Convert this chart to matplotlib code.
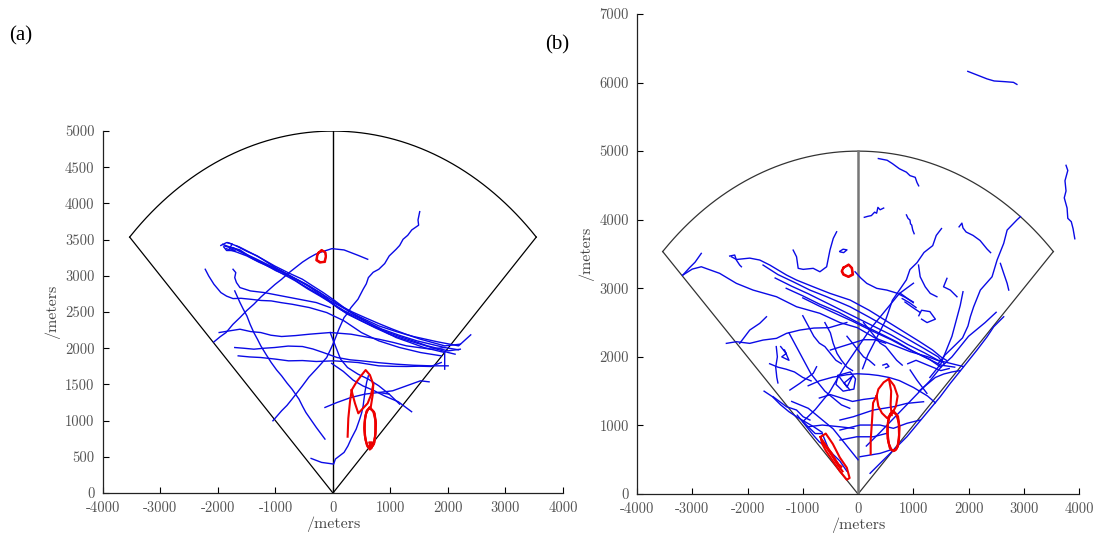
import numpy as np
import matplotlib
matplotlib.use('Agg')
import matplotlib.pyplot as plt

# radar coverage sector, same in both panels
sector_radius = 5000
sector_half_angle = 45  # degrees either side of north

x_ticks = [-4000, -3000, -2000, -1000, 0, 1000, 2000, 3000, 4000]
x_tick_labels = ['-4000', '-3000', '-2000', '-1000', '0', '1000', '2000', '3000', '4000']
y_ticks_a = [0, 500, 1000, 1500, 2000, 2500, 3000, 3500, 4000, 4500, 5000]
y_tick_labels_a = ['0', '500', '1000', '1500', '2000', '2500', '3000', '3500', '4000', '4500', '5000']
y_ticks_b = [0, 1000, 2000, 3000, 4000, 5000, 6000, 7000]
y_tick_labels_b = ['0', '1000', '2000', '3000', '4000', '5000', '6000', '7000']

# ---- panel (a): tracks in metres (x east, y north) ----
blue_tracks_a = [
    # long bundle, upper-left to lower-right
    [(-1919, 3436), (-1800, 3400), (-1617, 3358), (-1450, 3270), (-1255, 3192), (-1050, 3110), (-833, 3036),
     (-620, 2950), (-410, 2861), (-230, 2770), (-48, 2654), (130, 2580), (314, 2493), (550, 2400),
     (797, 2309), (1100, 2230), (1400, 2162), (1823, 2088), (2185, 2033), (2396, 2185)],
    [(-1889, 3413), (-1700, 3370), (-1557, 3312), (-1380, 3230), (-1195, 3160), (-990, 3070), (-772, 2999),
     (-560, 2890), (-350, 2792), (-160, 2700), (12, 2608), (190, 2520), (374, 2447), (620, 2350),
     (857, 2263), (1150, 2180), (1460, 2102), (1943, 2010), (2185, 1978)],
    [(-1859, 3376), (-1680, 3330), (-1497, 3275), (-1290, 3190), (-1074, 3114), (-860, 3020), (-652, 2930),
     (-440, 2820), (-229, 2723), (-60, 2640), (103, 2548), (300, 2460), (495, 2378), (740, 2280),
     (978, 2194), (1250, 2120), (1521, 2056), (2004, 1941), (2124, 1918)],
    [(-1829, 3459), (-1630, 3400), (-1436, 3321), (-1220, 3230), (-1014, 3137), (-770, 3040), (-531, 2953),
     (-350, 2860), (-169, 2769), (10, 2670), (193, 2562), (400, 2450), (616, 2355), (850, 2250),
     (1098, 2148), (1340, 2080), (1581, 2010), (1943, 1941), (1943, 1711)],
    [(-1738, 3390), (-1540, 3310), (-1346, 3238), (-1120, 3150), (-893, 3068), (-680, 2970), (-471, 2884),
     (-290, 2780), (-109, 2677), (70, 2570), (253, 2470), (460, 2390), (676, 2309), (920, 2230),
     (1159, 2162), (1400, 2100), (1642, 2033), (2004, 1964), (2215, 1987)],
    [(-1678, 3413), (-1500, 3340), (-1315, 3275), (-1130, 3180), (-953, 3091), (-770, 3010), (-591, 2930),
     (-410, 2850), (-229, 2769), (-50, 2680), (133, 2585), (340, 2500), (555, 2424), (800, 2340),
     (1038, 2263), (1280, 2190), (1521, 2125), (1943, 2033), (2215, 2056)],
    # scribble at the west end of the bundle
    [(-1950, 3420), (-1850, 3460), (-1750, 3440), (-1800, 3380), (-1700, 3350), (-1850, 3350), (-1900, 3400)],
    # arc over the top
    [(-2070, 2088), (-1960, 2160), (-1859, 2217), (-1740, 2330), (-1617, 2424), (-1500, 2520), (-1376, 2608),
     (-1250, 2710), (-1135, 2792), (-1010, 2880), (-893, 2953), (-770, 3040), (-652, 3114), (-530, 3190),
     (-410, 3252), (-300, 3300), (-199, 3330), (-18, 3376), (193, 3358), (435, 3284), (604, 3229)],
    # long diagonal from upper right to lower left
    [(1509, 3887), (1479, 3772), (1490, 3700), (1370, 3634), (1300, 3560), (1219, 3505), (1160, 3420),
     (1098, 3367), (978, 3275), (900, 3170), (797, 3091), (700, 3050), (616, 2976), (580, 2890),
     (525, 2815), (435, 2677), (314, 2562), (250, 2480), (193, 2424), (103, 2263), (12, 2079),
     (-50, 1970), (-109, 1872), (-200, 1790), (-290, 1711), (-420, 1600), (-531, 1481), (-620, 1390),
     (-712, 1297), (-800, 1210), (-893, 1136), (-1044, 998)],
    [(-1708, 2792), (-1617, 2631), (-1560, 2540), (-1497, 2447), (-1440, 2330), (-1376, 2217),
     (-1310, 2120), (-1255, 2033), (-1160, 1910), (-1074, 1803), (-980, 1700), (-893, 1619),
     (-800, 1520), (-712, 1435), (-591, 1297), (-530, 1200), (-471, 1113), (-290, 906), (-139, 745)],
    # roughly east-west tracks
    [(-1979, 2217), (-1800, 2240), (-1617, 2263), (-1430, 2230), (-1255, 2217), (-1080, 2180),
     (-893, 2162), (-650, 2175), (-410, 2194), (-48, 2217), (314, 2194), (550, 2160), (797, 2125),
     (1050, 2080), (1279, 2033), (1702, 1987), (1943, 2010)],
    [(-1708, 2010), (-1550, 2000), (-1376, 1987), (-1200, 2000), (-1014, 2010), (-780, 2030),
     (-531, 2024), (-350, 1990), (-169, 1941), (72, 1872), (300, 1840), (495, 1826), (800, 1800),
     (1098, 1780), (1400, 1765), (1702, 1757), (2004, 1757)],
    [(-1648, 1895), (-1450, 1880), (-1255, 1872), (-1000, 1850), (-772, 1826), (-530, 1830),
     (-290, 1817), (12, 1826), (220, 1815), (435, 1803), (797, 1757), (1050, 1750), (1279, 1748),
     (1500, 1752), (1702, 1748), (1883, 1803)],
    [(-2221, 3091), (-2161, 2999), (-2070, 2884), (-1949, 2769), (-1850, 2720), (-1738, 2686),
     (-1600, 2690), (-1436, 2677), (-1250, 2660), (-1074, 2654), (-900, 2630), (-712, 2608), (-410, 2562),
     (-109, 2493), (193, 2378), (495, 2217), (797, 2102), (1159, 2010), (1521, 1941), (1883, 1895)],
    [(-1738, 3091), (-1690, 3045), (-1708, 2976), (-1678, 2907), (-1617, 2838), (-1436, 2792),
     (-1195, 2769), (-893, 2723), (-591, 2677), (-290, 2631), (-48, 2562)],
    # lower tracks
    [(-139, 1182), (72, 1251), (314, 1320), (555, 1366), (797, 1389), (1038, 1412), (1279, 1481),
     (1521, 1550), (1672, 1536)],
    [(797, 1389), (978, 1366), (1159, 1228)],
    [(-380, 478), (-199, 423), (12, 400), (42, 469), (193, 561), (260, 650), (314, 745), (404, 883),
     (465, 1021), (500, 1110), (525, 1205), (555, 1389), (585, 1527), (616, 1619)],
    [(-48, 2217), (42, 2033), (133, 1849), (253, 1734), (435, 1642), (616, 1573), (797, 1481), (978, 1366)],
    [(-23, 1791), (180, 1680), (350, 1560), (520, 1480), (700, 1420), (900, 1340), (1136, 1261), (1368, 1123)],
]

red_tracks_a = [
    [(-259, 3312), (-199, 3358), (-139, 3330), (-121, 3275), (-139, 3192), (-229, 3183), (-290, 3215),
     (-278, 3275), (-259, 3312)],
    [(-250, 3320), (-190, 3350), (-130, 3320), (-125, 3260), (-150, 3195), (-220, 3190), (-280, 3220),
     (-270, 3290), (-250, 3320)],
    [(255, 778), (267, 1031), (296, 1261), (325, 1422), (412, 1537), (499, 1630), (568, 1699), (643, 1630),
     (701, 1501), (661, 1353), (603, 1239), (441, 1101), (383, 1239), (336, 1377), (325, 1422)],
    [(701, 1501), (690, 1350), (660, 1200)],
    [(643, 1180), (715, 1120), (743, 990), (740, 820), (715, 680), (660, 620), (600, 640), (560, 760),
     (545, 900), (560, 1050), (590, 1140), (643, 1180)],
    [(655, 1170), (725, 1100), (748, 960), (735, 790), (700, 660), (650, 615), (590, 660), (552, 800),
     (550, 960), (572, 1090), (615, 1160), (655, 1170)],
    [(630, 1175), (700, 1130), (735, 1010), (738, 850), (720, 700), (675, 630), (615, 630), (570, 720),
     (548, 880), (555, 1020), (585, 1130), (630, 1175)],
    [(620, 640), (640, 600), (670, 620), (650, 660), (630, 700), (680, 700), (640, 640)],
]

# ---- panel (b) ----
blue_tracks_b = [
    # outside the sector
    [(1987, 6163), (2146, 6113), (2336, 6053), (2463, 6023), (2654, 6013), (2813, 6003), (2876, 5973)],
    [(3765, 4793), (3797, 4718), (3746, 4568), (3765, 4419), (3733, 4319), (3784, 4170), (3797, 4020),
     (3860, 3971), (3892, 3871), (3924, 3722)],
    # upper right part of the sector
    [(368, 4892), (527, 4867), (622, 4818), (749, 4743), (876, 4693), (940, 4643), (1035, 4618),
     (1067, 4543), (1098, 4494)],
    [(114, 4035), (180, 4050), (241, 4060), (300, 4110), (337, 4095), (360, 4180), (400, 4145), (464, 4170)],
    [(876, 4070), (905, 4020), (940, 3995), (950, 3940), (972, 3921), (990, 3850), (1016, 3796)],
    [(1829, 3896), (1880, 3950), (1900, 3880), (1956, 3821), (2082, 3771), (2209, 3697), (2336, 3572),
     (2400, 3520)],
    [(2940, 4045), (2880, 4000), (2699, 3849), (2637, 3655), (2517, 3412), (2426, 3168), (2214, 2974),
     (2093, 2731), (2033, 2585), (1990, 2450), (1892, 2277), (1702, 2127), (1575, 2028), (1450, 1900)],
    [(1511, 3871), (1416, 3771), (1352, 3622), (1194, 3522), (1067, 3373), (940, 3273), (876, 3124),
     (749, 2974), (622, 2825), (559, 2675), (495, 2526), (368, 2327), (273, 2177), (178, 2028), (83, 1828)],
    [(-54, 3241), (50, 3150), (158, 3072), (339, 2999), (521, 2974), (700, 2930), (850, 2870), (1000, 2800)],
    [(1095, 3339), (1125, 3168), (1216, 3022), (1307, 2926), (1428, 2877)],
    [(1610, 3145), (1548, 3022), (1670, 2974), (1791, 2877)],
    [(2577, 3363), (2637, 3218), (2699, 3072), (2728, 2974)],
    [(760, 2930), (880, 2860), (1000, 2790)],
    [(800, 2850), (930, 2790), (1050, 2720)],
    [(850, 2800), (990, 2720), (1120, 2650)],
    [(1900, 2950), (1850, 2750), (1800, 2600), (1750, 2450), (1700, 2300), (1650, 2200), (1600, 2100),
     (1550, 2000), (1500, 1900), (1400, 1800), (1300, 1700)],
    [(1100, 1500), (1250, 1600), (1400, 1700), (1550, 1750), (1700, 1780), (1850, 1800)],
    [(900, 1900), (1050, 1950), (1200, 1900), (1350, 1850), (1500, 1800), (1650, 1830)],
    # left part and long bundle
    [(-3171, 3193), (-3050, 3300), (-2950, 3380), (-2837, 3509)],
    [(-3171, 3193), (-3000, 3280), (-2837, 3314), (-2505, 3218), (-2202, 3072), (-1900, 2974),
     (-1476, 2877), (-1113, 2731), (-690, 2635), (-330, 2501), (-13, 2426), (305, 2277), (622, 2177),
     (940, 2077), (1257, 2003), (1511, 1928)],
    [(-2292, 3460), (-2200, 3420), (-1960, 3440), (-1779, 3412), (-1597, 3339), (-1294, 3193), (-1113, 3120),
     (-811, 3022), (-508, 2926), (-145, 2829), (200, 2680), (500, 2530), (800, 2380), (1100, 2230),
     (1350, 2100), (1500, 2000), (1600, 1950)],
    [(-1719, 3339), (-1450, 3200), (-1174, 3095), (-871, 2974), (-568, 2877), (-145, 2731), (200, 2580),
     (550, 2420), (900, 2260), (1200, 2120), (1450, 2000), (1560, 1900)],
    [(-1500, 3150), (-1200, 3030), (-900, 2920), (-600, 2800), (-300, 2680), (0, 2560), (300, 2440),
     (600, 2320), (900, 2180), (1200, 2060), (1450, 1950), (1700, 1900), (1900, 1860)],
    [(-1000, 2860), (-700, 2740), (-400, 2630), (-100, 2520), (250, 2380), (600, 2250), (950, 2100),
     (1250, 1980), (1500, 1880), (1750, 1850)],
    [(-1300, 3000), (-1000, 2890), (-700, 2770), (-350, 2650), (0, 2500), (350, 2360), (700, 2220),
     (1000, 2080), (1300, 1960), (1500, 1850)],
    [(-1174, 3557), (-1113, 3460), (-1083, 3291), (-993, 3276), (-811, 3291), (-690, 3241), (-568, 3314),
     (-508, 3557), (-448, 3728), (-387, 3824)],
    [(-2323, 3470), (-2232, 3485), (-2202, 3412), (-2142, 3339), (-2111, 3314)],
    [(-330, 3540), (-270, 3570), (-200, 3560), (-260, 3520), (-320, 3530)],
    # middle band, west of the centre line
    [(-2383, 2197), (-2202, 2221), (-1960, 2197), (-1719, 2245), (-1476, 2270), (-1294, 2343),
     (-1053, 2391), (-800, 2420), (-521, 2426), (-203, 2501)],
    [(-2142, 2197), (-1960, 2391), (-1779, 2489), (-1657, 2585)],
    [(-1480, 2150), (-1460, 2000), (-1490, 1850), (-1470, 1700), (-1450, 1620)],
    [(-1234, 1516), (-1053, 1614), (-811, 1760), (-750, 1856)],
    [(-1537, 1419), (-1294, 1273), (-1113, 1225), (-993, 1127), (-871, 1079)],
    [(-997, 1056), (-775, 1231), (-521, 1480), (-267, 1828), (-13, 2127), (241, 2426), (495, 2675),
     (749, 2924), (1003, 3074)],
    [(-1400, 2150), (-1300, 2050), (-1380, 2000), (-1250, 1950), (-1330, 2100)],
    [(-1700, 1500), (-1550, 1420), (-1400, 1300), (-1250, 1200), (-1100, 1120), (-950, 1050), (-800, 980),
     (-650, 900)],
    [(-1200, 1350), (-1050, 1300), (-900, 1250), (-750, 1150), (-600, 1050), (-450, 950), (-300, 800),
     (-150, 650), (0, 500)],
    [(-1250, 2350), (-1150, 2200), (-1050, 2050), (-950, 1900), (-850, 1750), (-700, 1600), (-600, 1500),
     (-450, 1400), (-300, 1300), (-150, 1250)],
    [(-1000, 2600), (-900, 2450), (-800, 2300), (-700, 2200), (-600, 2150), (-500, 2050), (-400, 1950),
     (-300, 1900)],
    [(-600, 2500), (-500, 2350), (-450, 2200), (-380, 2050), (-300, 1950), (-200, 1850), (-100, 1800)],
    [(-1600, 1900), (-1450, 1850), (-1300, 1820), (-1150, 1780), (-1000, 1700), (-850, 1650)],
    [(-1100, 1150), (-1000, 1050), (-900, 950), (-800, 850), (-700, 760), (-600, 700)],
    [(-200, 2300), (-100, 2200), (0, 2100), (100, 2000), (200, 1950), (300, 1880)],
    [(100, 2500), (200, 2400), (300, 2300), (400, 2200), (500, 2150), (600, 2050), (700, 1950), (800, 1880)],
    [(-500, 2100), (-300, 2150), (-100, 2200), (100, 2250), (300, 2250), (500, 2200)],
    [(-700, 1400), (-500, 1450), (-300, 1400), (-100, 1350), (100, 1380), (300, 1400)],
    # around the origin
    [(-902, 1579), (-700, 1650), (-457, 1704), (-200, 1740), (-13, 1754), (200, 1745), (368, 1729),
     (560, 1700), (749, 1654), (1003, 1554), (1257, 1430), (1400, 1330)],
    [(-327, 1079), (-85, 1127), (278, 1225), (641, 1273), (884, 1322), (1186, 1346)],
    [(-327, 933), (36, 1006), (399, 1006), (641, 958), (884, 1031), (1125, 1079)],
    [(-327, 787), (-24, 835), (278, 835), (520, 885)],
    [(36, 544), (399, 593), (581, 641)],
    [(218, 302), (581, 593), (884, 835), (1186, 1127), (1488, 1419), (1670, 1614), (1912, 1856),
     (2154, 2100), (2336, 2293), (2456, 2439), (2637, 2585)],
    [(150, 700), (400, 900), (700, 1150), (1000, 1400), (1300, 1650), (1500, 1850), (1700, 2000),
     (2000, 2300), (2300, 2500), (2500, 2650)],
    [(-360, 1730), (-140, 1780), (-45, 1680), (-75, 1530), (-270, 1500), (-400, 1600), (-360, 1730)],
    [(-330, 1700), (-200, 1560), (-100, 1720), (-250, 1620), (-150, 1520)],
    [(-203, 334), (-330, 483), (-521, 633), (-648, 882), (-775, 882), (-902, 981), (-997, 1056)],
    [(-902, 981), (-648, 1006), (-330, 981), (-76, 957)],
    [(944, 1808), (1065, 1662), (1247, 1468)],
    [(450, 1880), (520, 1900), (560, 1860), (500, 1840)],
    [(1100, 2600), (1150, 2680), (1300, 2660), (1400, 2550), (1250, 2500), (1150, 2550)],
]

red_tracks_b = [
    [(-267, 3298), (-171, 3348), (-108, 3298), (-89, 3198), (-171, 3164), (-267, 3198), (-298, 3248),
     (-267, 3298)],
    [(-255, 3305), (-165, 3340), (-115, 3290), (-100, 3205), (-175, 3172), (-260, 3205), (-290, 3255),
     (-255, 3305)],
    [(337, 1430), (368, 1529), (464, 1629), (559, 1679), (654, 1579), (717, 1430), (686, 1280), (622, 1181),
     (527, 1106), (432, 1181), (368, 1280), (337, 1430)],
    [(559, 1679), (600, 1500), (590, 1300), (610, 1150)],
    [(337, 1430), (273, 1330), (254, 1081), (229, 782), (229, 583)],
    [(638, 1210), (710, 1150), (745, 1010), (745, 830), (720, 690), (660, 630), (590, 650), (545, 770),
     (530, 920), (545, 1070), (580, 1170), (638, 1210)],
    [(650, 1200), (725, 1130), (750, 970), (738, 790), (700, 660), (640, 625), (575, 670), (535, 810),
     (535, 980), (560, 1110), (605, 1185), (650, 1200)],
    [(625, 1195), (695, 1160), (735, 1040), (742, 860), (725, 710), (680, 640), (610, 640), (560, 730),
     (535, 890), (540, 1040), (575, 1150), (625, 1195)],
    [(-679, 832), (-584, 882), (-457, 732), (-330, 533), (-203, 384), (-152, 234), (-203, 209),
     (-330, 334), (-457, 483), (-584, 633), (-648, 732), (-679, 832)],
    [(-650, 780), (-560, 680), (-470, 580), (-400, 480), (-330, 400)],
    [(-640, 760), (-550, 655), (-465, 560), (-390, 465), (-320, 385)],
    [(-620, 740), (-520, 620), (-440, 520), (-360, 420), (-280, 330)],
    [(-660, 800), (-575, 700), (-480, 600), (-410, 500), (-350, 430), (-300, 400)],
]

blue = '#0a0ae6'
red = '#ee0000'


def draw_sector(ax, edge_color, center_color, center_width):
    half = np.deg2rad(sector_half_angle)
    theta = np.linspace(np.pi / 2 - half, np.pi / 2 + half, 200)
    ax.plot(sector_radius * np.cos(theta), sector_radius * np.sin(theta), color=edge_color, lw=0.9)
    corner = sector_radius * np.sin(half)
    ax.plot([0, corner], [0, corner], color=edge_color, lw=0.9)
    ax.plot([0, -corner], [0, corner], color=edge_color, lw=0.9)
    ax.plot([0, 0], [0, sector_radius], color=center_color, lw=center_width)


def style_axes(ax, y_ticks, y_tick_labels, y_max):
    ax.set_xlim(-4000, 4000)
    ax.set_ylim(0, y_max)
    ax.spines['top'].set_visible(False)
    ax.spines['right'].set_visible(False)
    for side in ['left', 'bottom']:
        ax.spines[side].set_linewidth(0.9)
        ax.spines[side].set_color('#222222')
    ax.set_xticks(x_ticks)
    ax.set_xticklabels(x_tick_labels, family='cmr10', fontsize=10.5, color='#555555')
    ax.set_yticks(y_ticks)
    ax.set_yticklabels(y_tick_labels, family='cmr10', fontsize=10.5, color='#555555')
    ax.tick_params(direction='in', length=4, width=0.8, pad=6)
    ax.set_xlabel('/meters', family='cmr10', fontsize=11.5, color='#444444', labelpad=1)
    ax.set_ylabel('/meters', family='cmr10', fontsize=11.5, color='#444444', labelpad=4)


fig = plt.figure(figsize=(10.94, 5.37), dpi=100)
ax_a = fig.add_axes([0.0941, 0.0819, 0.4205, 0.674])
ax_b = fig.add_axes([0.5823, 0.080, 0.404, 0.894])

draw_sector(ax_a, 'black', 'black', 1.0)
for tr in blue_tracks_a:
    xs, ys = zip(*tr)
    ax_a.plot(xs, ys, color=blue, lw=1.0)
for tr in red_tracks_a:
    xs, ys = zip(*tr)
    ax_a.plot(xs, ys, color=red, lw=1.5)
style_axes(ax_a, y_ticks_a, y_tick_labels_a, 5000)

draw_sector(ax_b, '#333333', '#777777', 1.8)
for tr in blue_tracks_b:
    xs, ys = zip(*tr)
    ax_b.plot(xs, ys, color=blue, lw=1.0)
for tr in red_tracks_b:
    xs, ys = zip(*tr)
    ax_b.plot(xs, ys, color=red, lw=1.5)
style_axes(ax_b, y_ticks_b, y_tick_labels_b, 7000)

fig.text(0.008, 0.925, '(a)', family='Liberation Serif', fontsize=15)
fig.text(0.498, 0.908, '(b)', family='Liberation Serif', fontsize=15)

fig.savefig('out.png', dpi=100)
